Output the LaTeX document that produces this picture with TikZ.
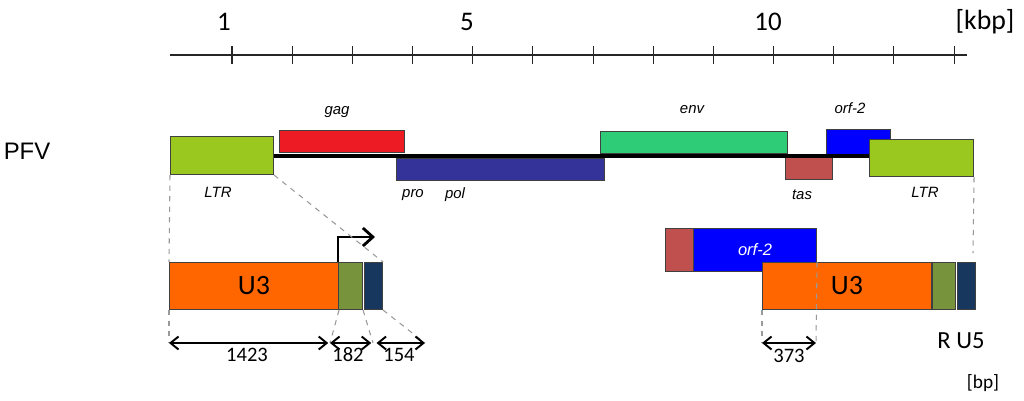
\documentclass[tikz,border=0pt]{standalone}
\usepackage{fontspec}
\setmainfont{Carlito}
\newfontfamily\arialfont{Liberation Sans}
\usepackage{xcolor}
\usetikzlibrary{arrows.meta, positioning}

\definecolor{ltrgreen}{RGB}{154,200,30}
\definecolor{gagred}{RGB}{237,28,36}
\definecolor{polblue}{RGB}{51,51,153}
\definecolor{envgreen}{RGB}{46,204,118}
\definecolor{tasred}{RGB}{192,80,77}
\definecolor{orfblue}{RGB}{0,0,255}
\definecolor{uorange}{RGB}{255,102,0}
\definecolor{rgreen}{RGB}{119,147,60}
\definecolor{unavy}{RGB}{23,55,94}

\begin{document}
\begin{tikzpicture}[
			x=0.02cm, y=-0.02cm,
			box/.style={draw=black!75, line width=0.6pt, rectangle, anchor=north west, inner sep=0pt},
			gene/.style={font=\arialfont\itshape\fontsize{8.5}{10}\selectfont, inner sep=0pt},
			guide/.style={draw=black!40, dashed, line width=0.6pt},
			dim/.style={{Straight Barb[length=1.6mm,width=2.6mm]}-{Straight Barb[length=1.6mm,width=2.6mm]}, line width=1.1pt},
			num/.style={font=\fontsize{11.7}{13}\selectfont, inner sep=0pt}
			]
			\useasboundingbox (0,0) rectangle (1024,400);
			
			% Scale
			\draw [line width=0.7pt, black!85] (170,55) -- (967,55);
			\foreach \i in {0,...,12}
				\draw [line width=0.6pt, black!85] ({232+60.17*\i},46) -- ({232+60.17*\i},64);
			\node (k1) [inner sep=0pt, font=\fontsize{15.3}{17}\selectfont] at (224,22) {1};
			\node (k5) [inner sep=0pt, font=\fontsize{15.3}{17}\selectfont] at (467,22) {5};
			\node (k10) [inner sep=0pt, font=\fontsize{15.3}{17}\selectfont] at (768,22) {10};
			\node (kbp) [inner sep=0pt, font=\fontsize{15.8}{17}\selectfont] at (985,22) {[kbp]};
			
			% Nodes: PFV genome
			\node (pfv) [inner sep=0pt, font=\arialfont\fontsize{13.6}{15}\selectfont] at (27,151) {PFV};
			\node (ltrL) [box, fill=ltrgreen, minimum width=2.06cm, minimum height=0.76cm] at (170,136) {};
			\node (gag) [box, fill=gagred, minimum width=2.5cm, minimum height=0.44cm] at (279,130) {};
			\node (pol) [box, fill=polblue, minimum width=4.16cm, minimum height=0.44cm] at (396,158) {};
			\node (env) [box, fill=envgreen, minimum width=3.74cm, minimum height=0.44cm] at (600,131) {};
			\node (tas) [box, fill=tasred, minimum width=0.94cm, minimum height=0.5cm] at (785,154) {};
			\node (orf) [box, fill=orfblue, minimum width=1.28cm, minimum height=0.5cm] at (826,129) {};
			\draw [line width=2.3pt] (ltrL.east) -- (ltrL.east -| orf.east);
			\node (ltrR) [box, fill=ltrgreen, minimum width=2.08cm, minimum height=0.74cm] at (869,139) {};
			
			\node (gagl) [gene] at (337,112) {gag};
			\node (envl) [gene] at (692,110) {env};
			\node (orfl) [gene] at (850,108) {orf-2};
			\node (ltrLl) [gene] at (218,192) {LTR};
			\node (prol) [gene] at (413,195) {pro};
			\node (poll) [gene] at (455,195) {pol};
			\node (tasl) [gene] at (802,195) {tas};
			\node (ltrRl) [gene] at (925,192) {LTR};
			
			% Nodes: left LTR
			\node (u3L) [box, fill=uorange, minimum width=3.38cm, minimum height=0.94cm, font=\fontsize{15.9}{17}\selectfont] at (169,262) {U3};
			\node (rL) [box, fill=rgreen, minimum width=0.48cm, minimum height=0.94cm] at (338,262) {};
			\node (u5L) [box, fill=unavy, minimum width=0.36cm, minimum height=0.94cm] at (364,262) {};
			\draw [line width=1.6pt, -{Straight Barb[length=2mm,width=3.6mm]}] (rL.north west) -- ++(0,-25) -- ++(37,0);
			
			% Nodes: right LTR
			\node (tasR) [box, fill=tasred, minimum width=0.56cm, minimum height=0.86cm] at (665,228) {};
			\node (orfR) [box, fill=orfblue, minimum width=2.46cm, minimum height=0.86cm, text=white, font=\arialfont\itshape\fontsize{9.4}{11}\selectfont] at (693,228) {orf-2};
			\node (u3R) [box, fill=uorange, minimum width=3.38cm, minimum height=0.94cm, font=\fontsize{15.9}{17}\selectfont] at (762,262) {U3};
			\node (rR) [box, fill=rgreen, minimum width=0.46cm, minimum height=0.94cm] at (932,262) {};
			\node (u5R) [box, fill=unavy, minimum width=0.36cm, minimum height=0.94cm] at (957,262) {};
			\node (ru5) [inner sep=0pt, font=\fontsize{14}{16}\selectfont] at (961,341) {R U5};
			\node (bp) [inner sep=0pt, font=\fontsize{11}{13}\selectfont] at (983,383) {[bp]};
			
			% Dimension ends
			\coordinate (d0) at (169,343);
			\coordinate (d1) at (330,343);
			\coordinate (d2) at (373,343);
			\coordinate (d3) at (425,343);
			\coordinate (d4) at (762,343);
			\coordinate (d5) at (816,343);
			\coordinate (ltrEnd) at (973,253);
			
			% Connections
			\draw [guide] (ltrL.south west) -- (u3L.north west);
			\draw [guide] (ltrL.south east) -- (u5L.north east);
			\draw [guide] (ltrR.south east) -- (ltrEnd);
			\draw [guide] (u3L.south west) -- (d0);
			\draw [guide] (u3L.south east) -- (d1);
			\draw [guide] (rL.south east) -- (d2);
			\draw [guide] (u5L.south east) -- (d3);
			\draw [guide] (u3R.south west) -- (d4);
			\draw [guide] (orfR.east |- u3R.north) -- (d5);
			
			\draw [dim] (d0) -- ([xshift=-1pt]d1);
			\draw [dim] (d1) -- ([xshift=-1pt]d2);
			\draw [dim] ([xshift=2pt]d2) -- (d3);
			\draw [dim] (d4) -- (d5);
			\node (n1423) [num] at (247,355) {1423};
			\node (n182) [num] at (348,355) {182};
			\node (n154) [num] at (399,355) {154};
			\node (n373) [num] at (789,356) {373};
			
		\end{tikzpicture}
\end{document}
